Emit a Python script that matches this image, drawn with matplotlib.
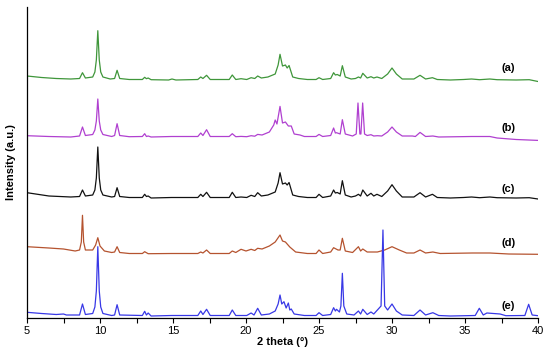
import matplotlib
matplotlib.use("Agg")
import matplotlib.pyplot as plt
from matplotlib.ticker import MultipleLocator

plt.rcParams["font.family"] = ["Liberation Sans", "DejaVu Sans"]

# (2 theta, intensity above the trace's own baseline)
trace_a = [(5.0, 4), (6.0, 2.5), (7.0, 1.5), (8.0, 1), (8.6, 1.5), (8.8, 7.3), (9.0, 2), (9.5, 3),
           (9.65, 8), (9.75, 20), (9.85, 49.3), (9.95, 20), (10.05, 8), (10.2, 3), (10.7, 1),
           (11.0, 1.5), (11.17, 9.7), (11.35, 1.5), (12.0, 0.5), (12.9, 0.5), (13.06, 2.7),
           (13.18, 1.3), (13.3, 2), (13.5, 0.3), (14.7, 0), (14.93, 1), (15.2, 0), (16.7, 0.5),
           (16.9, 3), (17.05, 1.5), (17.3, 4.7), (17.55, 0.5), (18.85, 0.5), (19.06, 5), (19.3, 0.5),
           (19.66, 1.3), (20.05, 0.5), (20.35, 2.3), (20.6, 1.5), (20.8, 4), (21.05, 2), (21.5, 3),
           (22.0, 6), (22.2, 15), (22.33, 25.7), (22.5, 14), (22.7, 15), (22.82, 12), (22.95, 14.5),
           (23.2, 3), (23.6, 1.5), (24.2, 0.5), (24.8, 0.5), (25.0, 2.3), (25.25, 0.5), (25.8, 1.5),
           (26.0, 7.3), (26.12, 5), (26.25, 5.5), (26.45, 4), (26.6, 14.3), (26.8, 3), (27.2, 1),
           (27.5, 1.5), (27.7, 3), (27.85, 2), (28.0, 6.7), (28.3, 2), (28.56, 3.3), (28.75, 2),
           (28.97, 3), (29.3, 1.5), (29.7, 6), (30.0, 12), (30.3, 6), (30.7, 1), (31.5, 1),
           (31.92, 4.7), (32.3, 1), (32.77, 2.3), (33.1, 0.5), (34.0, 0), (34.9, 0.5), (35.45, 1),
           (36.0, 0.3), (36.7, 1), (37.2, 0.3), (38.5, 0), (39.4, 0.3), (40.0, -1.5)]

trace_b = [(5.0, 1.3), (6.5, 0.5), (8.0, 0), (8.6, 1), (8.8, 10), (9.0, 1.5), (9.5, 2.5), (9.65, 7),
           (9.75, 16), (9.85, 38), (9.95, 16), (10.05, 7), (10.2, 2.5), (10.8, 0.5), (11.0, 1.5),
           (11.17, 13.3), (11.35, 1.5), (12.0, 0.3), (12.9, 0.5), (13.06, 3.3), (13.18, 0.5), (13.3, 1),
           (13.5, 0), (14.9, 0.5), (16.7, 0.5), (16.9, 4), (17.05, 1.5), (17.3, 7.3), (17.55, 0.5),
           (18.85, 0.5), (19.06, 3.3), (19.3, 0.3), (19.66, 0.6), (20.05, 0.3), (20.35, 1.3),
           (20.6, 0.8), (20.8, 2.6), (21.1, 2), (21.6, 5), (21.9, 12), (22.0, 17), (22.12, 13),
           (22.33, 30.6), (22.5, 14), (22.7, 15), (22.9, 11), (23.1, 11), (23.3, 3), (23.7, 2),
           (24.0, 0.5), (24.8, 0.5), (25.0, 2.6), (25.25, 0.5), (25.8, 1.5), (26.0, 9), (26.12, 4),
           (26.2, 4.3), (26.45, 3), (26.6, 17.3), (26.8, 3), (27.3, 1), (27.55, 3), (27.67, 34),
           (27.8, 3), (27.87, 3), (27.99, 34), (28.12, 3), (28.3, 1.5), (28.56, 2.3), (28.75, 1),
           (29.0, 1.3), (29.3, 1), (29.7, 5), (30.0, 10), (30.3, 5), (30.7, 1), (31.4, 1), (31.6, 0.5),
           (31.92, 4.6), (32.3, 0.5), (32.8, 1), (33.2, 0), (35.45, 0.5), (36.7, 0.5), (37.2, -1),
           (38.5, -2.5), (40.0, -3.4)]

trace_c = [(5.0, 5.3), (6.5, 2), (8.0, 1), (8.6, 1.5), (8.8, 8), (9.0, 2), (9.5, 3), (9.65, 8),
           (9.75, 20), (9.85, 51), (9.95, 20), (10.05, 8), (10.2, 3), (10.8, 1), (11.0, 1.5),
           (11.17, 10.3), (11.35, 1.5), (12.0, 0.5), (12.9, 0.5), (13.06, 3.7), (13.18, 1.5), (13.3, 2),
           (13.5, 0), (14.9, 0.5), (16.7, 0.5), (16.9, 3.7), (17.05, 1.5), (17.3, 5.7), (17.55, 0.5),
           (18.85, 0.5), (19.06, 5.7), (19.3, 0.5), (19.66, 1), (20.05, 0.5), (20.35, 2.7), (20.6, 1.5),
           (20.8, 5.3), (21.05, 2), (21.5, 3), (22.0, 6), (22.2, 15), (22.33, 25.3), (22.5, 14),
           (22.7, 15), (22.82, 13), (22.95, 15.5), (23.2, 3), (23.6, 1.5), (24.2, 0.5), (24.8, 0.5),
           (25.0, 3.7), (25.25, 0.5), (25.8, 2), (26.0, 8), (26.12, 5), (26.25, 5.5), (26.45, 4),
           (26.6, 17.3), (26.8, 3), (27.2, 1), (27.5, 2), (27.7, 3.7), (27.85, 2), (28.0, 8), (28.3, 2),
           (28.56, 4.7), (28.75, 2), (28.97, 3.7), (29.3, 1.5), (29.7, 7), (30.0, 13.3), (30.3, 7),
           (30.7, 1), (31.5, 1), (31.92, 5.3), (32.3, 1), (32.77, 3.7), (33.1, 0.5), (34.0, 0),
           (34.9, 0.5), (35.45, 1), (36.0, 0.3), (36.7, 1), (37.2, 0.3), (38.5, 0), (39.4, 0.3),
           (40.0, -1)]

trace_d = [(5.0, 7.3), (6.5, 6), (7.5, 5), (8.3, 3), (8.6, 4), (8.72, 12), (8.8, 38.7), (8.88, 12),
           (9.0, 4), (9.5, 4), (9.7, 9), (9.85, 16.3), (10.0, 8), (10.3, 3), (10.8, 1.5), (11.0, 2),
           (11.17, 7.3), (11.35, 1.5), (12.0, 0.5), (12.9, 0.5), (13.06, 2.3), (13.3, 0.3), (14.9, 0.5),
           (16.7, 0.5), (16.9, 2), (17.05, 1), (17.3, 4), (17.55, 0.5), (18.85, 0.5), (19.06, 3),
           (19.3, 1.5), (19.66, 4.7), (20.0, 3), (20.35, 4.7), (20.6, 3.5), (20.8, 5.7), (21.1, 5),
           (21.6, 8), (22.0, 12), (22.33, 19), (22.5, 13), (22.7, 12), (23.0, 7), (23.4, 2),
           (24.2, 0.5), (24.8, 0.5), (25.0, 4), (25.25, 0.5), (25.8, 2), (26.0, 6.3), (26.3, 4),
           (26.45, 4), (26.6, 15.7), (26.8, 3), (27.3, 1.5), (27.7, 7.3), (27.85, 3), (28.0, 5),
           (28.3, 2), (28.6, 2), (29.0, 2), (29.5, 4), (30.0, 7.3), (30.5, 4), (31.0, 1), (31.5, 1),
           (31.92, 4), (32.3, 1), (32.8, 2), (33.3, 0.5), (35.5, 1), (36.7, 1), (38.0, 0), (40.0, -0.3)]

trace_e = [(5.0, 3.7), (6.0, 2.5), (7.0, 1.5), (7.5, 2), (7.7, 1), (8.6, 1), (8.8, 12), (9.0, 1.5),
           (9.5, 2.5), (9.65, 9), (9.75, 25), (9.85, 69.3), (9.95, 25), (10.05, 9), (10.2, 2.5),
           (10.8, 0.5), (11.0, 1), (11.17, 11.3), (11.35, 1), (12.9, 0.5), (13.06, 4.7), (13.18, 1),
           (13.3, 3), (13.5, 0), (14.9, 0.5), (16.7, 0.5), (16.9, 5), (17.05, 1.5), (17.3, 6.7),
           (17.55, 0.5), (18.85, 0.5), (19.06, 6), (19.3, 0.5), (20.05, 0.5), (20.35, 3), (20.55, 1),
           (20.8, 7.7), (21.05, 1), (21.6, 2), (22.0, 5), (22.2, 12), (22.33, 21), (22.45, 12),
           (22.6, 14.3), (22.75, 8), (22.9, 13), (23.0, 6), (23.1, 7), (23.3, 2), (24.0, 0.5),
           (24.8, 0.5), (25.0, 3.3), (25.25, 0.5), (25.8, 1.5), (26.0, 8.3), (26.12, 5), (26.2, 6.7),
           (26.4, 4), (26.5, 10), (26.6, 42.7), (26.7, 10), (26.9, 2), (27.4, 1), (27.7, 5),
           (27.85, 2), (28.0, 6.7), (28.3, 1.5), (28.56, 4), (28.75, 2), (29.0, 6), (29.25, 10),
           (29.38, 86), (29.5, 10), (29.7, 6), (30.0, 12), (30.3, 5), (30.7, 1), (31.5, 0.5),
           (31.92, 6), (32.3, 1), (32.8, 3.3), (33.2, 0.5), (34.0, 0), (35.7, 0.5), (35.98, 7.7),
           (36.25, 1), (36.5, 3), (37.4, 2), (37.8, 0.3), (39.1, 0.5), (39.36, 11.7), (39.6, 1),
           (40.0, 0.3)]

traces = [trace_a, trace_b, trace_c, trace_d, trace_e]
labels = ["(a)", "(b)", "(c)", "(d)", "(e)"]
offsets = [238, 181, 120, 64, 2]
label_y = [250, 190, 129, 75, 12]
colors = ["#3f963a", "#b040d0", "#111111", "#b5532f", "#3838e6"]

fig = plt.figure(figsize=(5.5, 3.57), dpi=100)
ax = fig.add_axes([27 / 550, 39 / 357, 511 / 550, 311 / 357])

for pts, off, col, lab, ly in zip(traces, offsets, colors, labels, label_y):
    xs = [p[0] for p in pts]
    ys = [p[1] + off for p in pts]
    ax.plot(xs, ys, color=col, linewidth=0.9)
    ax.text(37.95, ly, lab, fontsize=8, fontweight="bold", ha="center", va="center")

ax.set_xlim(5, 40)
ax.set_ylim(0, 311)
ax.xaxis.set_major_locator(MultipleLocator(5))
ax.xaxis.set_minor_locator(MultipleLocator(2.5))
ax.tick_params(axis="x", which="both", direction="out", length=3.5, width=0.8, labelsize=8, pad=2)
ax.set_yticks([])
for side in ["top", "right"]:
    ax.spines[side].set_visible(False)
ax.spines["left"].set_linewidth(0.9)
ax.spines["bottom"].set_linewidth(0.9)

ax.set_xlabel("2 theta (\u00b0)", fontsize=8, fontweight="bold", labelpad=1)
ax.set_ylabel("Intensity (a.u.)", fontsize=8, fontweight="bold", labelpad=8)

fig.savefig("out.png", dpi=100)
